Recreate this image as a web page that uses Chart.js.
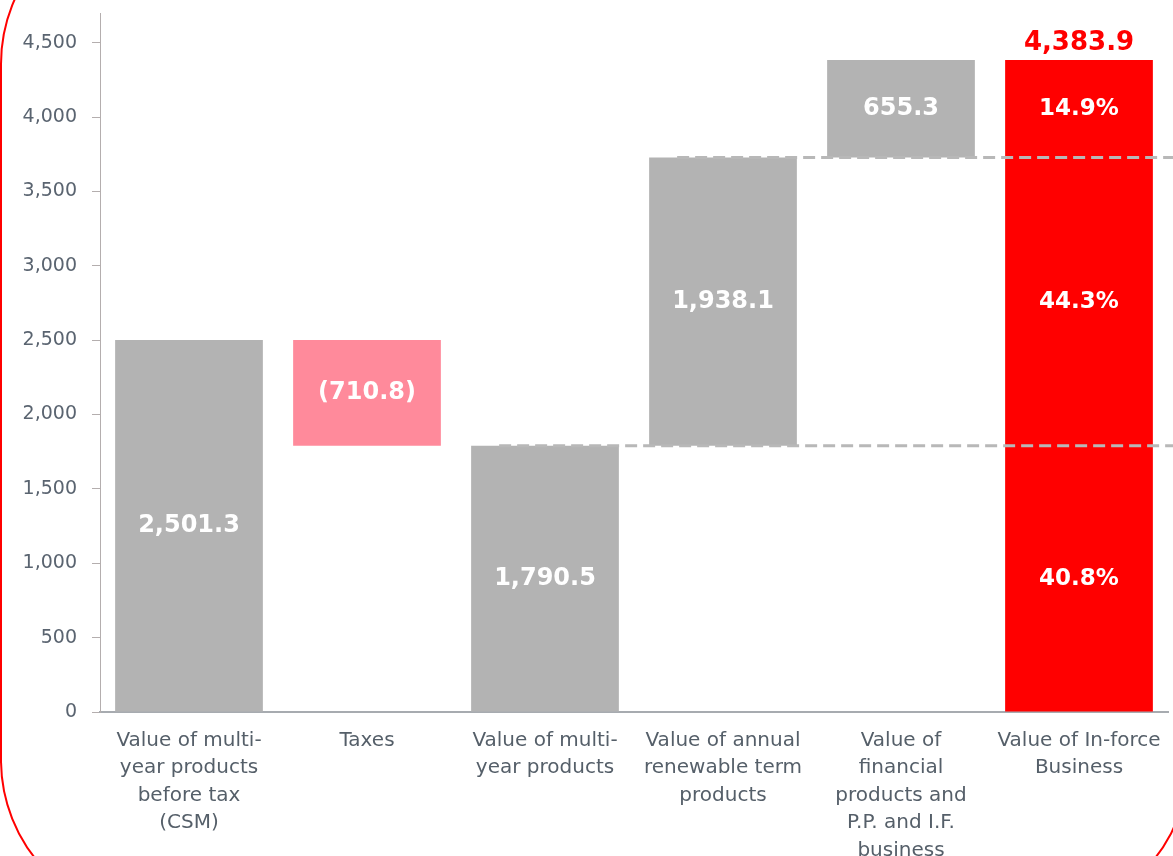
<!DOCTYPE html>
<html>
<head>
<meta charset="utf-8">
<script src="https://cdn.jsdelivr.net/npm/chart.js@4"></script>
<style>
  html, body { margin: 0; padding: 0; background: #fff; overflow: hidden; }
  #frame {
    position: absolute; left: 0; top: -96px; width: 1190px; height: 1016px;
    border: 2px solid #ff0000; border-radius: 160px; box-sizing: border-box;
  }
  #wrap { position: absolute; left: 0; top: 0; width: 1173px; height: 856px; }
</style>
</head>
<body>
<div id="frame"></div>
<div id="wrap"><canvas id="waterfall"></canvas></div>
<script>
// Data
const categories = [
    ['Value of multi-', 'year products', 'before tax', '(CSM)'],
    ['Taxes'],
    ['Value of multi-', 'year products'],
    ['Value of annual', 'renewable term', 'products'],
    ['Value of', 'financial', 'products and', 'P.P. and I.F.', 'business'],
    ['Value of In-force', 'Business']
];
const barStart = [0, 1790.5, 0, 1790.5, 3728.6, 0];
const barEnd = [2501.3, 2501.3, 1790.5, 3728.6, 4383.9, 4383.9];
const barLabels = ['2,501.3', '(710.8)', '1,790.5', '1,938.1', '655.3', ''];
const shareLabels = ['40.8%', '44.3%', '14.9%'];
const totalLabel = '4,383.9';
const yTickValues = [0, 500, 1000, 1500, 2000, 2500, 3000, 3500, 4000, 4500];

const barColors = ['#b3b3b3', '#ff8a9b', '#b3b3b3', '#b3b3b3', '#b3b3b3', '#ff0000'];

// Labels, dashed connectors and totals
const waterfallPlugin = {
    id: 'waterfallExtras',
    afterDatasetsDraw(chart) {
        const ctx = chart.ctx;
        const y = chart.scales.y;
        const area = chart.chartArea;
        const bars = chart.getDatasetMeta(0).data;

        // dashed connector lines
        ctx.save();
        ctx.strokeStyle = '#b8b8b8';
        ctx.lineWidth = 3;
        ctx.setLineDash([12, 6]);
        [2, 3].forEach(function (i) {
            const py = y.getPixelForValue(barEnd[i]);
            const x0 = bars[i].x - bars[i].width / 2 + 28;
            ctx.beginPath();
            ctx.moveTo(x0, py);
            ctx.lineTo(area.right + 5, py);
            ctx.stroke();
        });
        ctx.restore();

        ctx.save();
        ctx.textAlign = 'center';
        ctx.textBaseline = 'middle';
        ctx.fillStyle = '#ffffff';
        ctx.font = 'bold 24px "DejaVu Sans"';
        barLabels.forEach(function (txt, i) {
            if (!txt) return;
            const mid = (barStart[i] + barEnd[i]) / 2;
            ctx.fillText(txt, bars[i].x, y.getPixelForValue(mid));
        });

        // share of the total bar: segments match bars 3, 4 and 5
        const segs = [[barStart[2], barEnd[2]], [barStart[3], barEnd[3]], [barStart[4], barEnd[4]]];
        const last = bars[bars.length - 1];
        ctx.font = 'bold 23px "DejaVu Sans"';
        shareLabels.forEach(function (txt, k) {
            const mid = (segs[k][0] + segs[k][1]) / 2;
            ctx.fillText(txt, last.x, y.getPixelForValue(mid));
        });

        ctx.fillStyle = '#ff0000';
        ctx.font = 'bold 26px "DejaVu Sans"';
        ctx.textBaseline = 'alphabetic';
        ctx.fillText(totalLabel, last.x, y.getPixelForValue(barEnd[barEnd.length - 1]) - 10);
        ctx.restore();
    }
};

new Chart(document.getElementById('waterfall').getContext('2d'), {
    type: 'bar',
    data: {
        labels: categories,
        datasets: [{
            data: barStart.map((s, i) => [s, barEnd[i]]),
            backgroundColor: barColors,
            borderWidth: 0,
            categoryPercentage: 1,
            barPercentage: 0.83
        }]
    },
    options: {
        responsive: true,
        maintainAspectRatio: false,
        animation: false,
        layout: { padding: { top: 13, right: 5, left: 0, bottom: 0 } },
        plugins: {
            legend: { display: false },
            tooltip: { enabled: false }
        },
        scales: {
            x: {
                grid: { display: false },
                border: { display: true, color: '#a7abb0', width: 2 },
                ticks: {
                    color: '#555f69',
                    font: { family: 'DejaVu Sans', size: 20, lineHeight: 1.37 },
                    padding: 7,
                    maxRotation: 0,
                    autoSkip: false
                },
                afterFit: function (scale) { scale.height = 144; }
            },
            y: {
                min: 0,
                max: 4700,
                grid: { drawOnChartArea: false, drawTicks: true, tickLength: 8, color: '#b4aeae' },
                border: { display: true, color: '#b4aeae', width: 1 },
                ticks: {
                    stepSize: 500,
                    padding: 15,
                    color: '#5a6470',
                    font: { family: 'DejaVu Sans', size: 19 },
                    callback: function (v) { return v.toLocaleString('en-US'); }
                },
                afterBuildTicks: function (scale) {
                    scale.ticks = yTickValues.map(v => ({ value: v }));
                },
                afterFit: function (scale) {
                    scale.width = 100;
                    scale.paddingTop = 0;
                    scale.paddingBottom = 0;
                }
            }
        }
    },
    plugins: [waterfallPlugin]
});
</script>
</body>
</html>
